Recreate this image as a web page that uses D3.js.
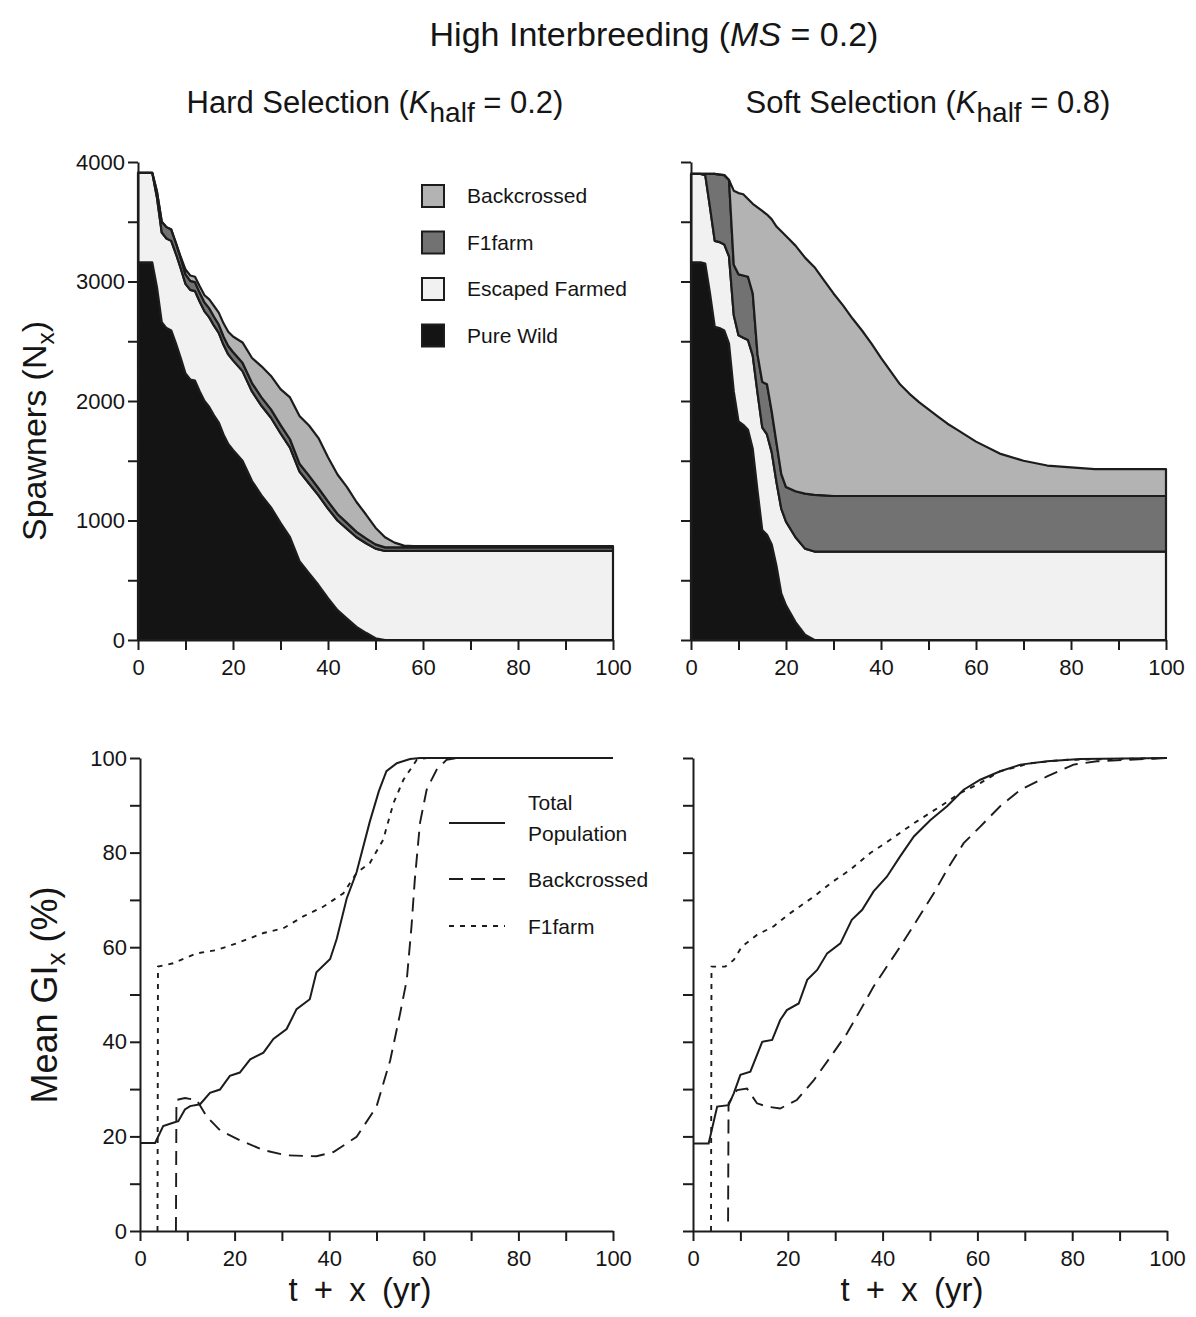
<!DOCTYPE html>
<html><head><meta charset="utf-8">
<script src="https://cdn.jsdelivr.net/npm/d3@7"></script>
<style>
body{margin:0;background:#fff}
svg{display:block}
text{font-family:"Liberation Sans",Arial,Helvetica,sans-serif;fill:#151515}
</style>
</head><body>
<svg id="c" width="1196" height="1317"></svg>
<script>
// ---------- DATA ----------
const years = [0,2,3,4,5,6,7,8,9,10,11,12,13,14,15,16,17,18,19,20,22,24,26,28,30,32,34,36,38,40,42,44,46,48,50,52,54,56,58,60,65,70,75,80,85,90,95,100];
const layerKeys = ["Pure Wild","Escaped Farmed","F1farm","Backcrossed"];

// Hard selection (K_half = 0.2) spawners per group
const hardWild = [3160,3160,3160,2950,2660,2610,2590,2480,2360,2230,2180,2170,2080,2000,1950,1880,1820,1720,1640,1590,1500,1330,1210,1110,980,860,660,560,460,350,250,180,110,60,15,0,0,0,0,0,0,0,0,0,0,0,0,0];
const hardEscaped = [750,750,750,750,750,750,750,750,750,750,750,750,750,750,750,750,750,750,750,750,750,750,750,750,750,750,750,750,750,750,750,750,750,750,750,745,745,745,745,745,745,745,745,745,745,745,745,745];
const hardF1 = [0,0,0,50,90,95,95,90,85,80,75,75,75,75,75,75,70,70,70,70,70,70,70,70,70,70,65,65,60,60,55,50,45,40,35,30,30,30,30,30,30,30,30,30,30,30,30,30];
const hardBack = [0,0,0,0,0,0,0,0,10,40,45,45,55,60,75,90,100,110,120,130,170,210,260,280,300,350,400,420,420,370,330,300,250,200,140,85,40,15,10,10,10,10,10,10,10,10,10,10];

// Soft selection (K_half = 0.8)
const softWild = [3160,3160,3150,2900,2620,2610,2590,2480,2080,1830,1800,1760,1600,1250,920,880,800,620,390,290,150,45,0,0,0,0,0,0,0,0,0,0,0,0,0,0,0,0,0,0,0,0,0,0,0,0,0,0];
const softEscaped = [740,740,740,720,720,720,720,730,640,720,730,750,780,820,860,840,770,700,710,700,710,720,740,740,740,740,740,740,740,740,740,740,740,740,740,740,740,740,740,740,740,740,740,740,740,740,740,740];
const softF1 = [0,0,10,280,560,565,580,640,420,510,520,530,520,320,380,420,340,330,290,290,385,460,475,470,465,465,465,465,465,465,465,465,465,465,465,465,465,465,465,465,465,465,465,465,465,465,465,465];
const softBack = [0,0,0,0,0,0,0,0,620,680,680,650,750,1230,1430,1420,1610,1810,2030,2100,2055,1975,1905,1800,1695,1595,1485,1385,1275,1155,1045,935,855,785,725,665,605,555,505,455,355,295,255,240,225,225,225,225];

// Mean GI (%) lines: [year, value]
const hardTotalGI = [[0,18.6],[3.2,18.6],[4.9,22.2],[7.0,22.9],[8.1,23.2],[9.5,25.7],[10.6,26.4],[12.7,26.8],[14.8,29.2],[16.9,29.9],[19.0,32.8],[21.1,33.5],[23.3,36.3],[26.1,37.7],[28.2,40.6],[31.0,42.7],[33.1,46.9],[35.9,49.0],[37.3,54.7],[40.2,57.5],[41.6,61.8],[43.7,70.3],[45.8,75.9],[48.6,86.6],[50.5,93],[52.1,97.2],[54.3,98.9],[57.1,99.8],[59.2,100],[100,100]];
const hardF1GI = [[3.7,0],[3.8,55.9],[7,56.6],[12,58.7],[16.2,59.4],[20.4,60.8],[26.1,63],[30.3,64],[34.5,66.5],[38.8,68.6],[43,71.4],[45.8,75.7],[48.6,77.8],[51.4,82.7],[53.6,90.5],[55.7,95.4],[58.5,99.6],[60.6,100],[100,100]];
const hardBackGI = [[7.6,0],[7.7,27.7],[9.5,28.1],[12,27.7],[14.1,24.2],[16.9,21.3],[21.1,19.2],[26.1,17.1],[31,16],[37.3,15.8],[40.9,16.7],[45.8,19.9],[50,26.3],[52.9,36.1],[55,46],[56.4,53.1],[57.4,64.4],[58.1,74.3],[59.2,86.3],[60.6,93.3],[62.7,97.5],[64.8,99.6],[67,100],[100,100]];
const softTotalGI = [[0,18.5],[3.3,18.5],[5.1,26.3],[7.5,26.6],[8.6,29.1],[10,33],[12.1,33.7],[14.6,40],[16.7,40.4],[18.4,44.6],[19.8,46.7],[22.3,48.1],[24.1,53.1],[26.2,55.2],[28.3,58.7],[31.1,60.8],[33.5,65.8],[35.7,67.9],[38.1,71.8],[40.9,74.9],[43.7,79.2],[46.6,83.4],[50.1,86.9],[53.6,89.8],[57.1,93.3],[60.6,95.4],[64.8,97.2],[69.1,98.6],[74.7,99.3],[81.7,99.8],[100,100]];
const softF1GI = [[3.8,0],[3.9,55.9],[6.8,55.9],[8.6,57.3],[10.3,60.1],[13.5,62.6],[17,64.4],[20.5,67.2],[25.5,70.7],[29,73.5],[33.2,76.4],[37.4,79.9],[41.6,82.7],[46.6,86.2],[52.2,89.8],[56.4,92.6],[60.6,94.7],[64.8,97.2],[71.2,98.9],[78.2,99.6],[100,100]];
const softBackGI = [[7.4,2],[7.5,27],[9.3,29.8],[11.4,30.1],[13.5,27],[15.6,26.3],[18.4,25.9],[21.9,27.7],[25.5,31.9],[29,36.8],[32.5,41.8],[35.3,46.7],[38.1,51.7],[40.9,55.9],[43.7,60.1],[47.3,65.8],[50.8,71.4],[53.6,76.4],[57.1,82],[60.6,85.5],[64.8,89.8],[69.1,93.3],[74.7,96.1],[80.3,98.6],[85.2,99.3],[100,100]];

const xTickValues = [0,10,20,30,40,50,60,70,80,90,100];
const xTickLabels = [0,20,40,60,80,100];
const spawnerTicks = [0,500,1000,1500,2000,2500,3000,3500,4000];
const spawnerLabels = [0,1000,2000,3000,4000];
const giTicks = [0,10,20,30,40,50,60,70,80,90,100];
const giLabels = [0,20,40,60,80,100];
const lineNames = ["Total Population","Backcrossed","F1farm"];

// ---------- STYLE ----------
const fills = {"Pure Wild":"#141414","Escaped Farmed":"#f1f1f1","F1farm":"#727272","Backcrossed":"#b3b3b3"};
const ink = "#1c1c1c";
const dashes = {"Total Population":null,"Backcrossed":"14,8","F1farm":"5,6"};

const svg = d3.select("#c");

function drawAxes(xs, ys, yTicks, yLabels, showY) {
  const gx = svg.append("g").attr("transform", `translate(0,${ys.range()[0]})`)
    .call(d3.axisBottom(xs).tickValues(xTickValues).tickSize(10).tickSizeOuter(0).tickPadding(9)
      .tickFormat(d => xTickLabels.includes(d) ? d : ""));
  const gy = svg.append("g").attr("transform", `translate(${xs.range()[0]},0)`)
    .call(d3.axisLeft(ys).tickValues(yTicks).tickSize(10).tickSizeOuter(0).tickPadding(3)
      .tickFormat(d => showY && yLabels.includes(d) ? d : ""));
  [gx, gy].forEach(g => {
    g.select(".domain").attr("stroke", ink).attr("stroke-width", 2);
    g.selectAll(".tick line").attr("stroke", ink).attr("stroke-width", 2);
    g.selectAll(".tick text").attr("fill", "#151515").style("font-size", "22px")
      .style("font-family", '"Liberation Sans",Arial,sans-serif');
  });
}

function stackPanel(xr, wild, esc, f1, back, showY) {
  const xs = d3.scaleLinear().domain([0,100]).range(xr);
  const ys = d3.scaleLinear().domain([0,4000]).range([640,162]);
  const rows = years.map((t,i) => ({t, "Pure Wild": wild[i], "Escaped Farmed": esc[i], "F1farm": f1[i], "Backcrossed": back[i]}));
  const series = d3.stack().keys(layerKeys)(rows);
  const area = d3.area().x(d => xs(d.data.t)).y0(d => ys(d[0])).y1(d => ys(d[1]));
  svg.append("g").selectAll("path").data(series).join("path")
    .attr("d", area).attr("fill", d => fills[d.key])
    .attr("stroke", ink).attr("stroke-width", 2.2).attr("stroke-linejoin", "round");
  drawAxes(xs, ys, spawnerTicks, spawnerLabels, showY);
}

function linePanel(xr, total, back, f1, showY) {
  const xs = d3.scaleLinear().domain([0,100]).range(xr);
  const ys = d3.scaleLinear().domain([0,100]).range([1231,758]);
  const line = d3.line().x(d => xs(d[0])).y(d => ys(d[1]));
  const sets = [["F1farm", f1], ["Backcrossed", back], ["Total Population", total]];
  sets.forEach(([name, data]) => {
    svg.append("path").attr("d", line(data)).attr("fill", "none")
      .attr("stroke", ink).attr("stroke-width", name === "Total Population" ? 2 : 1.9)
      .attr("stroke-dasharray", dashes[name]);
  });
  drawAxes(xs, ys, giTicks, giLabels, showY);
}

stackPanel([138,613], hardWild, hardEscaped, hardF1, hardBack, true);
stackPanel([691,1166], softWild, softEscaped, softF1, softBack, false);
linePanel([140,613], hardTotalGI, hardBackGI, hardF1GI, true);
linePanel([693,1167], softTotalGI, softBackGI, softF1GI, false);

// ---------- TEXT ----------
const title = svg.append("text").attr("x", 654).attr("y", 46).attr("text-anchor", "middle").style("font-size", "34px");
title.append("tspan").text("High Interbreeding (");
title.append("tspan").style("font-style", "italic").text("MS");
title.append("tspan").text(" = 0.2)");

function subTitle(cx, val, label) {
  const t = svg.append("text").attr("x", cx).attr("y", 113).attr("text-anchor", "middle").style("font-size", "31px");
  t.append("tspan").text(label + " (");
  t.append("tspan").style("font-style", "italic").text("K");
  t.append("tspan").attr("dy", 9).style("font-size", "28px").text("half");
  t.append("tspan").attr("dy", -9).text(" = " + val + ")");
}
subTitle(375, "0.2", "Hard Selection");
subTitle(928, "0.8", "Soft Selection");

function yTitle(cx, cy, main, rest, size) {
  const t = svg.append("text").attr("transform", `translate(${cx},${cy}) rotate(-90)`)
    .attr("text-anchor", "middle").style("font-size", size + "px");
  t.append("tspan").text(main);
  t.append("tspan").attr("dy", 8).style("font-size", (size * 0.72) + "px").text("x");
  t.append("tspan").attr("dy", -8).text(rest);
}
yTitle(46, 431, "Spawners (N", ")", 34);
yTitle(57, 995, "Mean GI", " (%)", 36);

[360, 912].forEach(cx => {
  svg.append("text").attr("x", cx).attr("y", 1301).attr("text-anchor", "middle")
    .style("font-size", "33px").style("word-spacing", "7px").text("t + x (yr)");
});

// legend (stacked areas)
const legTop = svg.append("g");
layerKeys.slice().reverse().forEach((k, i) => {
  const y0 = 185 + i * 46.5;
  legTop.append("rect").attr("x", 422).attr("y", y0).attr("width", 22).attr("height", 22)
    .attr("fill", fills[k]).attr("stroke", ink).attr("stroke-width", 2);
  legTop.append("text").attr("x", 467).attr("y", y0 + 18).style("font-size", "21px").text(k);
});

// legend (lines)
const legBot = svg.append("g");
const legRows = [823, 879, 926];
lineNames.forEach((k, i) => {
  legBot.append("line").attr("x1", 449).attr("x2", 505).attr("y1", legRows[i]).attr("y2", legRows[i])
    .attr("stroke", ink).attr("stroke-width", 2).attr("stroke-dasharray", dashes[k]);
  if (k === "Total Population") {
    legBot.append("text").attr("x", 528).attr("y", 810).style("font-size", "21px").text("Total");
    legBot.append("text").attr("x", 528).attr("y", 841).style("font-size", "21px").text("Population");
  } else {
    legBot.append("text").attr("x", 528).attr("y", legRows[i] + 8).style("font-size", "21px").text(k);
  }
});
</script>
</body></html>
